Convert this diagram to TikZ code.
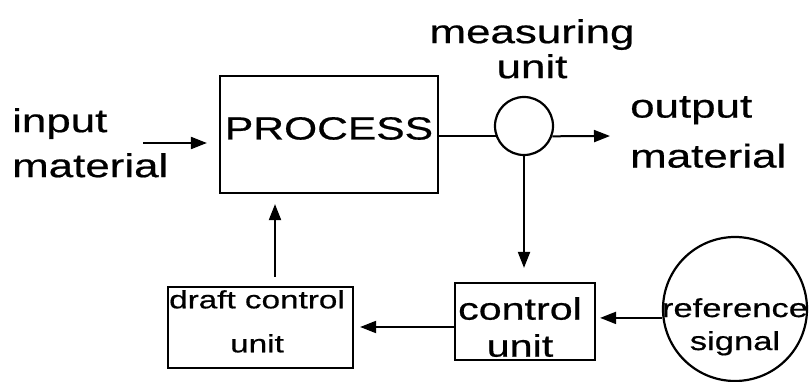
\documentclass[tikz,border=0pt]{standalone}
\usepackage{fontspec}
\setmainfont{Liberation Sans}[FakeStretch = 1.33, FakeBold = 0.6]
\usetikzlibrary{arrows.meta}

\tikzset{
	box/.style = {draw, line width = 2.2pt, inner sep = 0pt},
	txt/.style = {inner sep = 0pt, align = center},
	conn/.style = {line width = 2pt},
	arr/.style = {conn, -{Triangle[length = 16pt, width = 12pt]}},
}

\newcommand{\fsz}[2]{\fontsize{#1}{#2}\selectfont}

\begin{document}
\begin{tikzpicture}[x = 1pt, y = -1pt]
	\useasboundingbox (0,0) rectangle (809,382);

	% blocks
	\node[box, minimum width = 218pt, minimum height = 117pt, text height = 25pt, text depth = 15pt, font = \fsz{32}{32}] (proc) at (329,134.5) {PROCESS};
	\node[box, circle, minimum size = 58pt] (meas) at (524,126) {};
	\node[box, minimum width = 140pt, minimum height = 77pt] (ctrl) at (525,321.5) {};
	\node[box, minimum width = 185pt, minimum height = 81pt] (draft) at (260.5,327.5) {};
	\node[box, circle, minimum size = 144pt] (ref) at (735,309) {};

	% texts
	\node[txt, anchor = north west, align = left, font = \fsz{33}{45}] (inmat) at (12,108) {input\\material};
	\node[txt, anchor = north, font = \fsz{33}{35}] (measlbl) at (532,19) {measuring\\unit};
	\node[txt, anchor = north west, align = left, font = \fsz{33}{50}] (outmat) at (630,96) {output\\material};
	\node[txt, anchor = north, font = \fsz{31}{37}] (ctrllbl) at (520,297) {control\\unit};
	\node[txt, anchor = north, font = \fsz{26}{33}] (reflbl) at (735,298) {reference\\signal};
	\node[txt, anchor = north, font = \fsz{25}{44}] (draftlbl) at (257,290) {draft control\\unit};

	% connectors
	\coordinate (intail) at (143,143);
	\coordinate (outtip) at (610,136);
	\draw[arr, shorten >= 12pt] (intail) -- (intail -| proc.west);
	\draw[conn] (proc.east |- meas.200) -- (meas.200);
	\draw[arr] (meas.-20) -- (outtip);
	\draw[arr, shorten >= 14pt] (meas.south) -- (meas.south |- ctrl.north);
	\draw[arr, shorten >= 4pt] (ref.187) -- (ref.187 -| ctrl.east);
	\draw[arr, shorten >= 6pt] ([yshift = -5.5pt]ctrl.west) -- ([yshift = -5.5pt]ctrl.west -| draft.east);
	\draw[arr, shorten <= 9pt, shorten >= 10pt] ([xshift = 14.5pt]draft.north) -- ([xshift = 14.5pt]draft.north |- proc.south);
\end{tikzpicture}
\end{document}
